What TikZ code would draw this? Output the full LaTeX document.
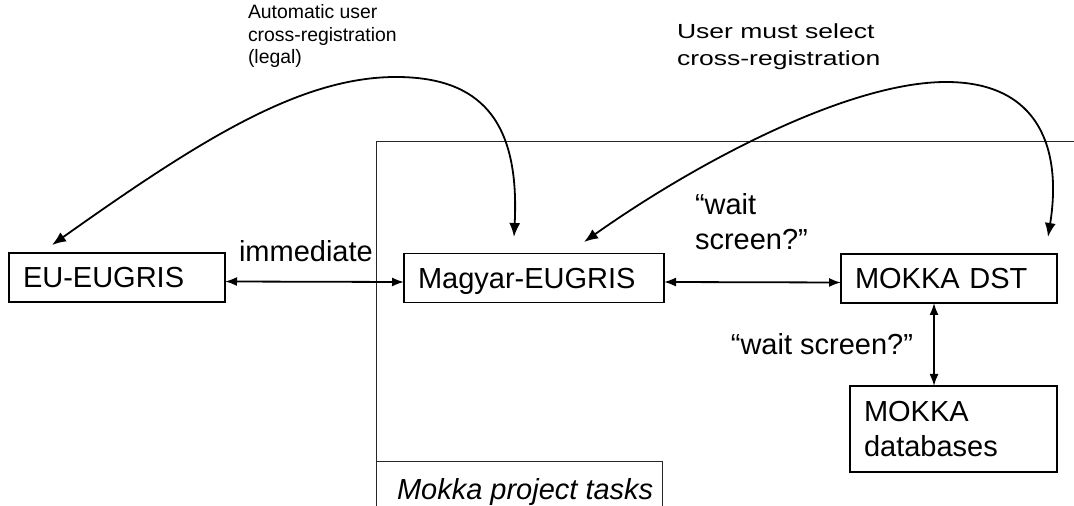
\documentclass[tikz,border=0pt]{standalone}
\usepackage{fontspec}
\setmainfont{Liberation Sans}
\newfontfamily\widesans{Liberation Sans}[FakeStretch=1.3]
\usetikzlibrary{arrows.meta}
\newcommand{\bigtext}{\fontsize{14.5}{17.5}\selectfont}
\newcommand{\smalltext}{\fontsize{9.7}{11.3}\selectfont}
\newcommand{\widetext}{\widesans\fontsize{10.2}{13.5}\selectfont}
\tikzstyle{system}=[draw, line width=0.7pt, inner xsep=7pt, inner ysep=0, outer sep=0,
                    align=left, text depth=0pt, minimum height=24.5pt, font=\bigtext]
\tikzstyle{note}=[inner sep=0, outer sep=0, align=left]
\tikzstyle{link}=[line width=0.9pt, {Latex[length=6pt,width=4.5pt]}-{Latex[length=6pt,width=4.5pt]}]
\tikzstyle{crossreg}=[line width=0.9pt, {Latex[length=7pt,width=5.5pt]}-{Latex[length=7pt,width=5.5pt]}]
\tikzstyle{frame}=[line width=0.5pt, black!85]

\begin{document}
\begin{tikzpicture}[x=0.5pt, y=-0.5pt]
    \useasboundingbox (0,0) rectangle (1074,506);
    % project frame
    \coordinate (frametop) at (1080,142);
    \coordinate (framecorner) at (376,142);
    \coordinate (framebottom) at (376,512);
    \draw[frame] (frametop) -- (framecorner) -- (framebottom);
    \node[note, font=\bigtext\itshape, anchor=base west] (tasks) at (397,500) {Mokka project tasks};
    \draw[frame] (framecorner |- 0,462) -- (662,462) -- (662,512);

    \node[system, text width=94pt]  (eu)     at (117,277.5) {EU-EUGRIS};
    \node[system, text width=116pt] (magyar) at (534,278)   {Magyar-EUGRIS};
    \node[system, text width=94pt]  (dst)    at (949,278.5) {MOKKA DST};
    \node[system, text width=89.5pt, text depth={}, minimum height=43pt] (db) at (953.5,429) {MOKKA\\databases};

    \draw[link] ([yshift=-2pt]eu.east) -- ([yshift=-2pt]magyar.west);
    \draw[link] ([yshift=-2pt]magyar.east) -- ([yshift=-2pt]dst.west);
    \draw[link] ([xshift=-7.5pt]dst.south) -- ([xshift=-7.5pt]dst.south |- db.north);

    % multi-line notes sit on their last baseline
    \node[note, font=\bigtext, anchor=base west] (immediate) at (239,262) {immediate};
    \node[note, font=\bigtext, anchor=base west] (waitmg)    at (695,250) {“wait\\screen?”};
    \node[note, font=\bigtext, anchor=base east] (waitdb)    at (913,355) {“wait screen?”};

    % cross-registration
    \node[note, font=\smalltext, anchor=base west] (auto)   at (248,64) {Automatic user\\cross-registration\\(legal)};
    \node[note, font=\widetext,  anchor=base west] (select) at (677,66) {User must select\\cross-registration};
    \coordinate (autoeu) at (52,245);
    \coordinate (automg) at (514,237);
    \draw[crossreg] (autoeu) .. controls (200,140) and (300,77) .. (396,77)
                             .. controls (480,77) and (520,120) .. (automg);
    \coordinate (selmg)  at (584,242);
    \coordinate (seldst) at (1048,237);
    \draw[crossreg] (selmg) .. controls (700,160) and (850,82) .. (946,82)
                            .. controls (1040,82) and (1062,150) .. (seldst);
\end{tikzpicture}
\end{document}
